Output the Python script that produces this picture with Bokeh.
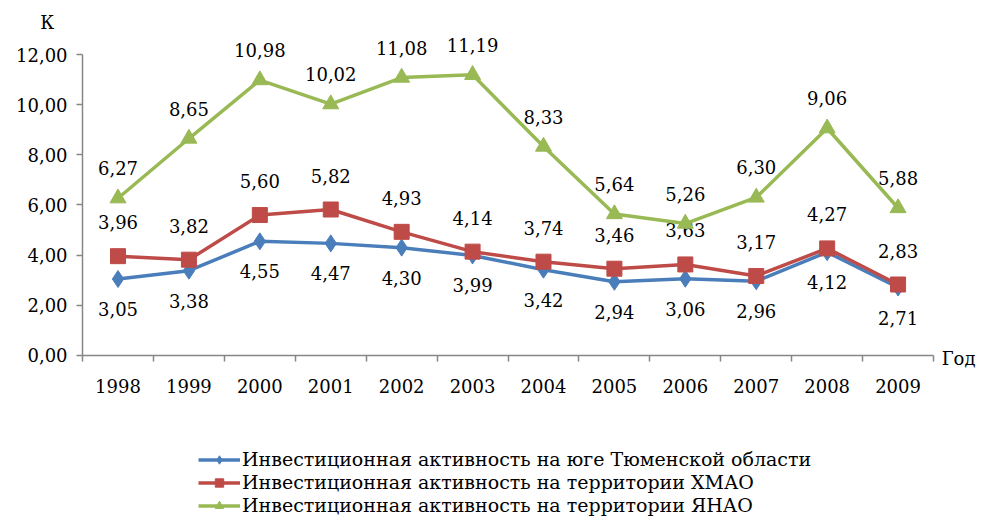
from bokeh.plotting import figure
from bokeh.models import (FixedTicker, CustomJSTickFormatter, Legend, LegendItem,
                          Label, ColumnDataSource, Range1d)
from bokeh.embed import file_html
from bokeh.resources import INLINE
from bokeh.core.properties import value

years = ["1998", "1999", "2000", "2001", "2002", "2003", "2004", "2005", "2006", "2007", "2008", "2009"]
south = [3.05, 3.38, 4.55, 4.47, 4.30, 3.99, 3.42, 2.94, 3.06, 2.96, 4.12, 2.71]
khmao = [3.96, 3.82, 5.60, 5.82, 4.93, 4.14, 3.74, 3.46, 3.63, 3.17, 4.27, 2.83]
yanao = [6.27, 8.65, 10.98, 10.02, 11.08, 11.19, 8.33, 5.64, 5.26, 6.30, 9.06, 5.88]
names = ["Инвестиционная активность на юге Тюменской области",
         "Инвестиционная активность на территории ХМАО",
         "Инвестиционная активность на территории ЯНАО"]
y_ticks = [0, 2, 4, 6, 8, 10, 12]
y_label = "К"
x_label = "Год"

FONT = "DejaVu Serif"
FS = "18px"
n = len(years)
xs = [i + 0.5 for i in range(n)]

p = figure(width=977, height=516, output_backend="svg", toolbar_location=None,
           x_range=Range1d(-1.157, 12.62), y_range=Range1d(-6.419, 14.153),
           min_border=0)
p.outline_line_color = None
p.xgrid.grid_line_color = None
p.ygrid.grid_line_color = None

# axes, pinned at the data origin so the frame can hold the legend and titles
p.xaxis.fixed_location = 0
p.yaxis.fixed_location = 0
p.xaxis.bounds = (0, n)
p.yaxis.bounds = (0, 12)
p.xaxis.ticker = FixedTicker(ticks=xs, minor_ticks=list(range(n + 1)))
p.xaxis.major_label_overrides = {x: y for x, y in zip(xs, years)}
p.xaxis.major_tick_out = 0
p.xaxis.major_tick_in = 0
p.xaxis.minor_tick_out = 6
p.xaxis.minor_tick_in = 0
p.xaxis.minor_tick_line_color = "#868686"
p.xaxis.minor_tick_line_width = 1.5
p.yaxis.ticker = FixedTicker(ticks=y_ticks)
p.yaxis.formatter = CustomJSTickFormatter(code="return tick.toFixed(2).replace('.', ',');")
p.yaxis.major_tick_out = 6
p.yaxis.major_tick_in = 0
p.yaxis.minor_tick_line_color = None
for ax in (p.xaxis, p.yaxis):
    ax.axis_line_color = "#868686"
    ax.axis_line_width = 1.5
    ax.major_tick_line_color = "#868686"
    ax.major_tick_line_width = 1.5
    ax.major_label_text_font = FONT
    ax.major_label_text_font_size = FS
    ax.major_label_text_color = "black"
p.xaxis.major_label_standoff = 18
p.yaxis.major_label_standoff = 9

def fmt(v):
    return f"{v:.2f}".replace(".", ",")

series = [
    (south, "#4A7EBB", "diamond", 17, 30),
    (khmao, "#BE4B48", "square", 15, -34),
    (yanao, "#98B954", "triangle", 16, -30),
]
items = []
for (vals, color, marker, size, off), name in zip(series, names):
    src = ColumnDataSource(dict(x=xs, y=vals, lab=[fmt(v) for v in vals]))
    r1 = p.line("x", "y", source=src, line_color=color, line_width=3.5)
    r2 = p.scatter("x", "y", source=src, marker=marker, size=size,
                   fill_color=color, line_color=color)
    p.text("x", "y", text="lab", source=src, y_offset=off, text_align="center",
           text_baseline="middle", text_font=value(FONT), text_font_size=FS,
           text_color="black")
    items.append(LegendItem(label=name, renderers=[r1, r2]))

legend = Legend(items=items, location=(198, 0), orientation="vertical",
                label_text_font=FONT, label_text_font_size="19px",
                label_text_color="black", glyph_width=42, glyph_height=21,
                spacing=1, padding=0, margin=0, border_line_color=None,
                background_fill_alpha=0, label_standoff=2, label_height=21)
p.add_layout(legend, "center")

p.add_layout(Label(x=-0.5, y=13.28, text=y_label, text_align="center", text_baseline="middle",
                   text_font=FONT, text_font_size=FS, text_color="black"))
p.add_layout(Label(x=12.115, y=-0.12, text=x_label, text_align="left", text_baseline="middle",
                   text_font=FONT, text_font_size=FS, text_color="black"))

open("out.html", "w").write(file_html(p, INLINE))
